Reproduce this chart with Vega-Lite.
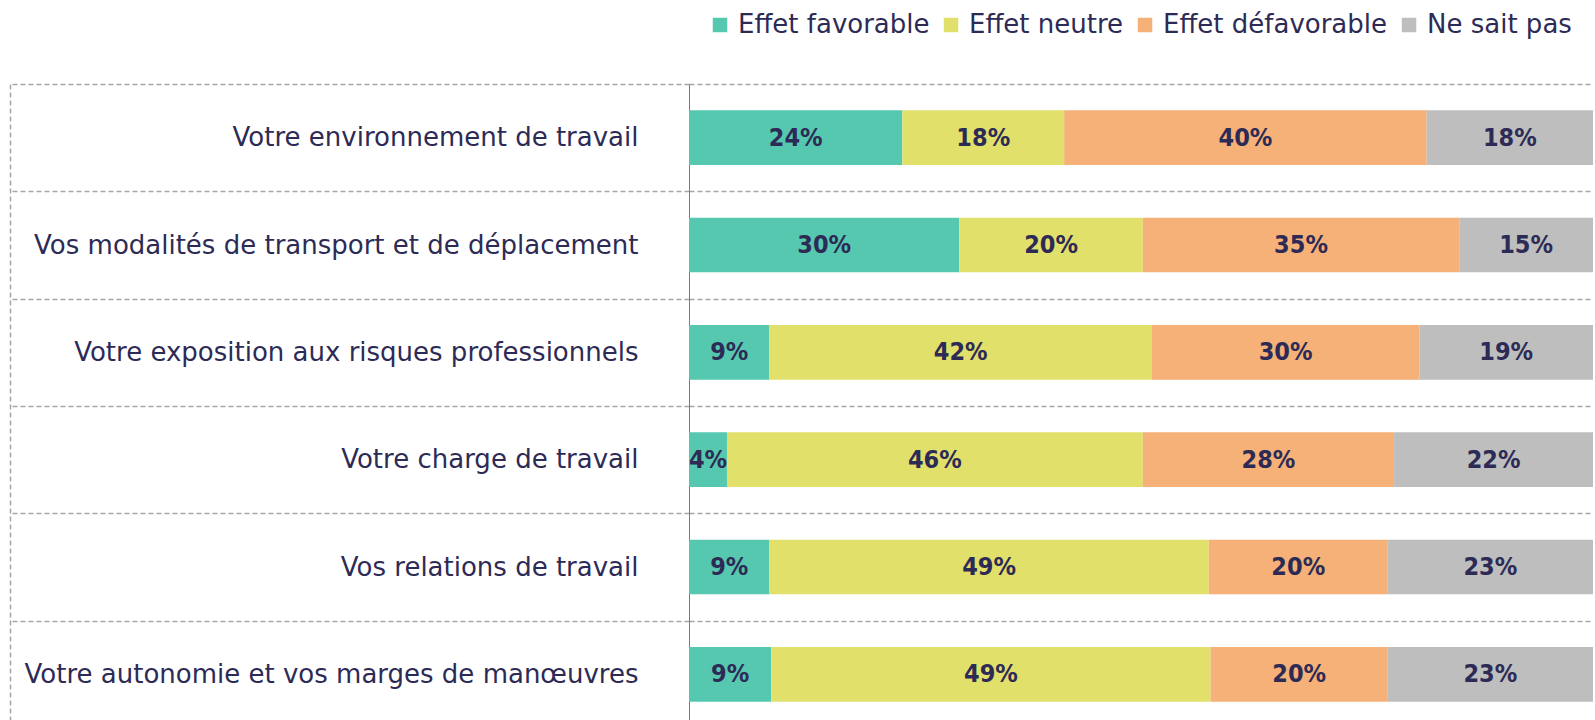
{
  "$schema": "https://vega.github.io/schema/vega-lite/v6.json",
  "width": 904,
  "height": 644,
  "autosize": {"type": "none"},
  "padding": {"left": 689, "top": 84, "right": 2, "bottom": 0},
  "background": "white",
  "config": {"view": {"stroke": null}, "font": "DejaVu Sans"},
  "data": {
    "values": [
      {"item": "Votre environnement de travail", "effet": "Effet favorable", "rang": 1, "valeur": 0.236},
      {"item": "Votre environnement de travail", "effet": "Effet neutre", "rang": 2, "valeur": 0.179},
      {"item": "Votre environnement de travail", "effet": "Effet défavorable", "rang": 3, "valeur": 0.401},
      {"item": "Votre environnement de travail", "effet": "Ne sait pas", "rang": 4, "valeur": 0.184},
      {"item": "Vos modalités de transport et de déplacement", "effet": "Effet favorable", "rang": 1, "valeur": 0.299},
      {"item": "Vos modalités de transport et de déplacement", "effet": "Effet neutre", "rang": 2, "valeur": 0.203},
      {"item": "Vos modalités de transport et de déplacement", "effet": "Effet défavorable", "rang": 3, "valeur": 0.350},
      {"item": "Vos modalités de transport et de déplacement", "effet": "Ne sait pas", "rang": 4, "valeur": 0.148},
      {"item": "Votre exposition aux risques professionnels", "effet": "Effet favorable", "rang": 1, "valeur": 0.089},
      {"item": "Votre exposition aux risques professionnels", "effet": "Effet neutre", "rang": 2, "valeur": 0.423},
      {"item": "Votre exposition aux risques professionnels", "effet": "Effet défavorable", "rang": 3, "valeur": 0.296},
      {"item": "Votre exposition aux risques professionnels", "effet": "Ne sait pas", "rang": 4, "valeur": 0.192},
      {"item": "Votre charge de travail", "effet": "Effet favorable", "rang": 1, "valeur": 0.042},
      {"item": "Votre charge de travail", "effet": "Effet neutre", "rang": 2, "valeur": 0.460},
      {"item": "Votre charge de travail", "effet": "Effet défavorable", "rang": 3, "valeur": 0.278},
      {"item": "Votre charge de travail", "effet": "Ne sait pas", "rang": 4, "valeur": 0.220},
      {"item": "Vos relations de travail", "effet": "Effet favorable", "rang": 1, "valeur": 0.089},
      {"item": "Vos relations de travail", "effet": "Effet neutre", "rang": 2, "valeur": 0.486},
      {"item": "Vos relations de travail", "effet": "Effet défavorable", "rang": 3, "valeur": 0.198},
      {"item": "Vos relations de travail", "effet": "Ne sait pas", "rang": 4, "valeur": 0.227},
      {"item": "Votre autonomie et vos marges de manœuvres", "effet": "Effet favorable", "rang": 1, "valeur": 0.091},
      {"item": "Votre autonomie et vos marges de manœuvres", "effet": "Effet neutre", "rang": 2, "valeur": 0.486},
      {"item": "Votre autonomie et vos marges de manœuvres", "effet": "Effet défavorable", "rang": 3, "valeur": 0.196},
      {"item": "Votre autonomie et vos marges de manœuvres", "effet": "Ne sait pas", "rang": 4, "valeur": 0.227}
    ]
  },
  "layer": [
    {
      "mark": {"type": "bar", "height": {"band": 0.51}},
      "encoding": {
        "y": {
          "field": "item", "type": "nominal", "sort": null,
          "scale": {"paddingInner": 0, "paddingOuter": 0},
          "axis": {
            "title": null,
            "domain": true, "domainColor": "#7a7a7a", "domainWidth": 1,
            "ticks": true, "tickBand": "extent", "tickSize": 679, "tickDash": [5, 3], "tickColor": "#a6a6a6", "tickWidth": 1.5,
            "grid": true, "gridDash": [5, 3], "gridColor": "#a6a6a6", "gridWidth": 1.5,
            "labelPadding": -628, "labelFont": "DejaVu Sans", "labelFontSize": 26, "labelColor": "#2d2b55", "labelLimit": 0
          }
        },
        "x": {"field": "valeur", "type": "quantitative", "stack": "zero", "scale": {"domain": [0, 1], "nice": false}, "axis": null},
        "order": {"field": "rang", "type": "quantitative"},
        "color": {
          "field": "effet", "type": "nominal",
          "sort": ["Effet favorable", "Effet neutre", "Effet défavorable", "Ne sait pas"],
          "scale": {
            "domain": ["Effet favorable", "Effet neutre", "Effet défavorable", "Ne sait pas"],
            "range": ["#56c8b0", "#e1e06b", "#f5b177", "#bebebe"]
          },
          "legend": {
            "title": null, "orient": "none", "legendX": 18, "legendY": -72,
            "direction": "horizontal", "symbolType": "square", "symbolSize": 210,
            "symbolStrokeWidth": 0, "labelFont": "DejaVu Sans", "labelFontSize": 26, "labelColor": "#2d2b55",
            "labelOffset": 5, "columnPadding": 8, "labelLimit": 0
          }
        }
      }
    },
    {
      "mark": {"type": "text", "font": "DejaVu Sans Condensed, DejaVu Sans, sans-serif", "fontWeight": "bold", "fontSize": 25, "color": "#2d2b55", "baseline": "middle", "align": "center"},
      "encoding": {
        "y": {
          "field": "item", "type": "nominal", "sort": null,
          "axis": {"orient": "left", "offset": 679, "title": null, "labels": false, "ticks": false, "grid": false, "domain": true, "domainDash": [5, 3], "domainColor": "#a6a6a6", "domainWidth": 1.5}
        },
        "x": {"field": "valeur", "type": "quantitative", "stack": "zero", "bandPosition": 0.5},
        "order": {"field": "rang", "type": "quantitative"},
        "text": {"field": "valeur", "type": "quantitative", "format": ".0%"}
      }
    }
  ],
  "resolve": {"axis": {"y": "independent"}}
}
